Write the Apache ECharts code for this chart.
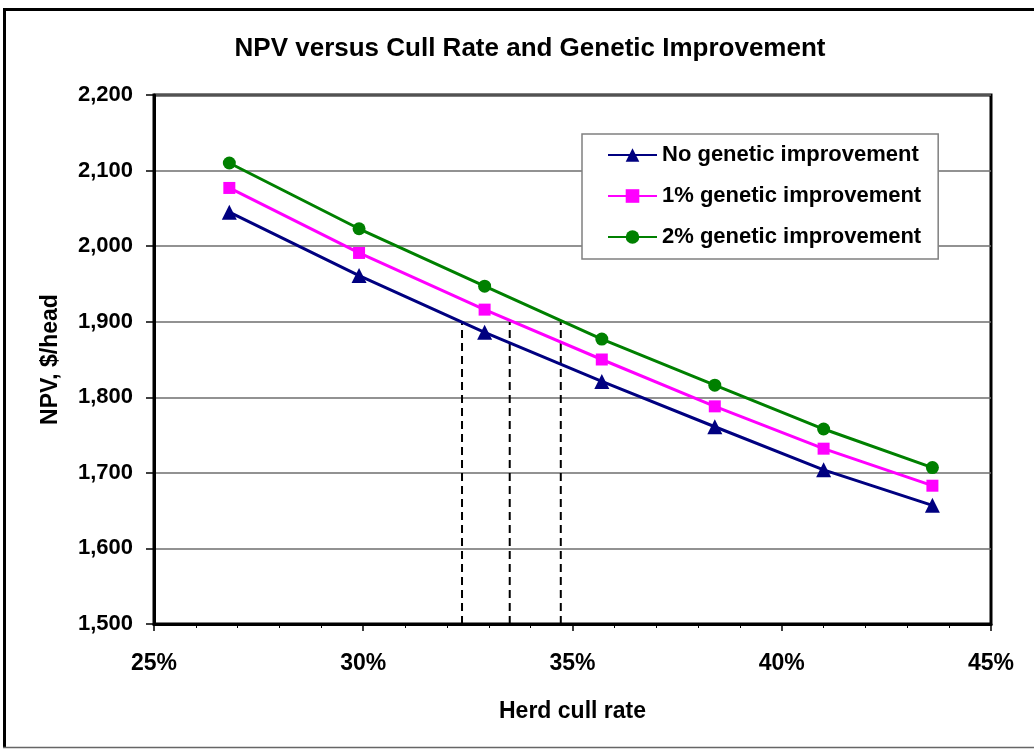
<!DOCTYPE html>
<html>
<head>
<meta charset="utf-8">
<title>NPV versus Cull Rate and Genetic Improvement</title>
<script src="https://cdn.jsdelivr.net/npm/echarts@6/dist/echarts.min.js"></script>
<style>
  html, body { margin: 0; padding: 0; background: #fff; }
  #chart { width: 1034px; height: 749px; }
</style>
</head>
<body>
<div id="chart"></div>
<script>
// herd cull rate (fraction) for each point
var cullRate = [0.268, 0.299, 0.329, 0.357, 0.384, 0.410, 0.436];
// NPV, $/head
var npvNone = [2045, 1961, 1886, 1821, 1761, 1704, 1657];
var npvOne = [2077, 1991, 1916, 1850, 1788, 1732, 1683];
var npvTwo = [2110, 2023, 1947, 1877, 1816, 1758, 1707];
var seriesNames = ['No genetic improvement', '1% genetic improvement', '2% genetic improvement'];

// dashed drop lines where each curve crosses 1,900
var dashX = [0.3236, 0.335, 0.3472];
var dashFrom = 1500;
var dashTo = 1900;

var FONT = 'Liberation Sans, Arial, sans-serif';

function pairs(xs, ys) {
  var out = [];
  for (var i = 0; i < xs.length; i++) {
    out.push([xs[i], ys[i]]);
  }
  return out;
}

var myChart = echarts.init(document.getElementById('chart'));

var series = [
  {
    name: seriesNames[0],
    type: 'line',
    data: pairs(cullRate, npvNone),
    symbol: 'triangle',
    symbolSize: 15,
    itemStyle: { color: '#000080' },
    lineStyle: { color: '#000080', width: 3 },
    z: 5
  },
  {
    name: seriesNames[1],
    type: 'line',
    data: pairs(cullRate, npvOne),
    symbol: 'rect',
    symbolSize: 12,
    itemStyle: { color: '#ff00ff' },
    lineStyle: { color: '#ff00ff', width: 3 },
    z: 5
  },
  {
    name: seriesNames[2],
    type: 'line',
    data: pairs(cullRate, npvTwo),
    symbol: 'circle',
    symbolSize: 13,
    itemStyle: { color: '#008000' },
    lineStyle: { color: '#008000', width: 3 },
    z: 5
  }
];

//虚线
for (var i = 0; i < dashX.length; i++) {
  series.push({
    name: 'dash' + i,
    type: 'line',
    data: [[dashX[i], dashFrom], [dashX[i], dashTo]],
    symbol: 'none',
    silent: true,
    lineStyle: { color: '#000', width: 2, type: [8, 5] },
    z: 3
  });
}

var option = {
  animation: false,
  backgroundColor: '#fff',
  title: {
    text: 'NPV versus Cull Rate and Genetic Improvement',
    left: 525,
    top: 31,
    textAlign: 'center',
    textStyle: { fontFamily: FONT, fontSize: 26, fontWeight: 'bold', color: '#000' }
  },
  graphic: [
    { type: 'line', shape: { x1: 4.5, y1: 9.5, x2: 4.5, y2: 748 }, style: { stroke: '#000', lineWidth: 3 } },
    { type: 'line', shape: { x1: 3, y1: 9.5, x2: 1034, y2: 9.5 }, style: { stroke: '#000', lineWidth: 3 } },
    { type: 'line', shape: { x1: 3, y1: 747.5, x2: 1034, y2: 747.5 }, style: { stroke: '#666', lineWidth: 1.5 } }
  ],
  legend: {
    data: seriesNames,
    orient: 'vertical',
    left: 582,
    top: 134,
    backgroundColor: '#fff',
    borderColor: '#808080',
    borderWidth: 1.5,
    padding: [10, 17, 11, 25],
    itemWidth: 49,
    itemHeight: 17,
    itemGap: 19,
    textStyle: { fontFamily: FONT, fontSize: 22, fontWeight: 'bold', color: '#000' }
  },
  grid: {
    left: 154,
    right: 43,
    top: 95,
    bottom: 125,
    show: true,
    borderColor: '#000',
    borderWidth: 3,
    containLabel: false
  },
  xAxis: {
    type: 'value',
    min: 0.25,
    max: 0.45,
    interval: 0.05,
    name: 'Herd cull rate',
    nameLocation: 'middle',
    nameGap: 76,
    nameTextStyle: { fontFamily: FONT, fontSize: 23, fontWeight: 'bold', color: '#000' },
    axisLine: { show: true, lineStyle: { color: '#000', width: 3 } },
    axisTick: { show: true, inside: false, length: 7, lineStyle: { color: '#000', width: 1.5 } },
    minorTick: { show: true, splitNumber: 5, length: 4, lineStyle: { color: '#000', width: 1 } },
    splitLine: { show: false },
    axisLabel: {
      margin: 28,
      fontFamily: FONT,
      fontSize: 23,
      fontWeight: 'bold',
      color: '#000',
      formatter: function (v) { return Math.round(v * 100) + '%'; }
    }
  },
  yAxis: {
    type: 'value',
    min: 1500,
    max: 2200,
    interval: 100,
    name: 'NPV, $/head',
    nameLocation: 'middle',
    nameGap: 92,
    nameTextStyle: { fontFamily: FONT, fontSize: 23, fontWeight: 'bold', color: '#000' },
    axisLine: { show: true, lineStyle: { color: '#000', width: 3 } },
    axisTick: { show: true, inside: false, length: 8, lineStyle: { color: '#000', width: 1.5 } },
    splitLine: { show: true, lineStyle: { color: '#6e6e6e', width: 1.5 } },
    axisLabel: {
      margin: 21,
      fontFamily: FONT,
      fontSize: 22,
      fontWeight: 'bold',
      color: '#000',
      formatter: function (v) { return v.toLocaleString('en-US'); }
    }
  },
  series: series
};

myChart.setOption(option);
</script>
</body>
</html>
